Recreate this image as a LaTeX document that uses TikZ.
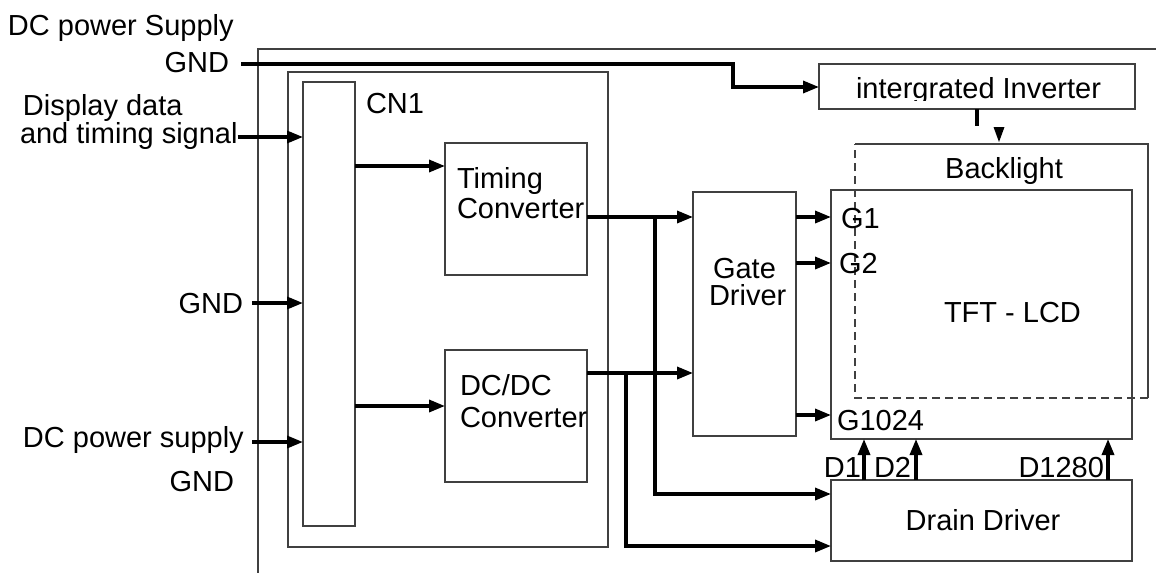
\documentclass[tikz,border=0pt]{standalone}
\usepackage{fontspec}
\setmainfont{Liberation Sans}
\usetikzlibrary{arrows.meta}
\begin{document}
\begin{tikzpicture}[x=1pt,y=-1pt,
  box/.style={draw=black!75,line width=1.1pt,inner sep=0pt,outer sep=0pt,anchor=north west},
  frame/.style={draw=black!75,line width=1.1pt},
  lbl/.style={inner sep=0pt,outer sep=0pt,font=\fontsize{29}{32}\selectfont},
  wire/.style={line width=3.4pt},
  conn/.style={line width=3.4pt,-{Triangle[length=16pt,width=12pt]}}]
\useasboundingbox (0,0) rectangle (1156,573);

% outer frame (top and left only)
\draw[frame] (1156,49) -- (258,49) -- (258,573);

% boxes
\node[box,minimum width=320pt,minimum height=475pt] (main) at (288,72) {};
\node[box,minimum width=52pt,minimum height=444pt] (cn1) at (303,82) {};
\node[box,minimum width=142pt,minimum height=132pt] (tc) at (445,143) {};
\node[box,minimum width=142pt,minimum height=132pt] (dc) at (445,350) {};
\node[box,minimum width=103pt,minimum height=244pt] (gd) at (693,192) {};
\node[box,minimum width=316pt,minimum height=45pt] (inv) at (819,64) {};
\node[box,minimum width=301pt,minimum height=249pt] (tft) at (831,190) {};
\node[box,minimum width=301pt,minimum height=81pt] (dd) at (831,480) {};
\node[inner sep=0pt,outer sep=0pt,anchor=north west,minimum width=293pt,minimum height=254pt] (bl) at (855,144) {};
\draw[frame] (bl.north west) -- (bl.north east) -- (bl.south east);
\draw[frame,dash pattern=on 8pt off 5pt] (bl.south east) -- (bl.south west) -- (bl.north west);

% texts
\node[lbl,anchor=base west] (t1) at (8,35) {DC power Supply};
\node[lbl,anchor=base east] (gnd1) at (229,72) {GND};
\node[lbl,anchor=base west] (t2) at (23,115) {Display data};
\node[lbl,anchor=base west] (t3) at (20,143) {and timing signal};
\node[lbl,anchor=base east] (gnd2) at (243,313) {GND};
\node[lbl,anchor=base west] (t4) at (23,447) {DC power supply};
\node[lbl,anchor=base east] (gnd3) at (234,491) {GND};
\node[lbl,anchor=base west] (cnl) at (366,113) {CN1};
\node[lbl,anchor=base west] (tc1) at (457,188) {Timing};
\node[lbl,anchor=base west] (tc2) at (457,218) {Converter};
\node[lbl,anchor=base west] (dc1) at (460,395) {DC/DC};
\node[lbl,anchor=base west] (dc2) at (460,427) {Converter};
\node[lbl,anchor=base west] (gd1) at (713,278) {Gate};
\node[lbl,anchor=base west] (gd2) at (709,305) {Driver};
\begin{scope}
\clip (inv.north west) rectangle (1135,100);
\node[lbl,anchor=base west] (invt) at (856,98) {intergrated Inverter};
\end{scope}
\node[lbl,anchor=base] (blt) at (1004,178) {Backlight};
\node[lbl,anchor=base west] (tftt) at (944,322) {TFT - LCD};
\node[lbl,anchor=base west] (g1) at (841,228) {G1};
\node[lbl,anchor=base west] (g2) at (839,273) {G2};
\node[lbl,anchor=base west] (g3) at (837,430) {G1024};
\node[lbl,anchor=base east] (d1) at (861,477) {D1};
\node[lbl,anchor=base west] (d2) at (874,477) {D2};
\node[lbl,anchor=base east] (d3) at (1104,477) {D1280};
\node[lbl,anchor=base] (ddt) at (983,530) {Drain Driver};

% connectors
\coordinate (s1) at (241,64);
\draw[conn] (s1) -- (733,64) -- (733,87) -- (inv.west |- 0,87);
\draw[conn] (t3.east |- 0,137) -- (cn1.west |- 0,137);
\coordinate (s2) at (252,303);
\draw[conn] (s2) -- (cn1.west |- 0,303);
\coordinate (s3) at (252,442);
\draw[conn] (s3) -- (cn1.west |- 0,442);
\draw[conn] (cn1.east |- 0,166) -- (tc.west |- 0,166);
\draw[conn] (cn1.east |- 0,406) -- (dc.west |- 0,406);
\draw[conn] (tc.east |- 0,217) -- (gd.west |- 0,217);
\draw[conn] (dc.east |- 0,373) -- (gd.west |- 0,373);
\coordinate (b1) at (655,217);
\coordinate (b2) at (626,373);
\draw[conn] (b1) -- (655,494) -- (dd.west |- 0,494);
\draw[conn] (b2) -- (626,546) -- (dd.west |- 0,546);
\draw[conn] (gd.east |- 0,217) -- (tft.west |- 0,217);
\draw[conn] (gd.east |- 0,263) -- (tft.west |- 0,263);
\draw[conn] (gd.east |- 0,415) -- (tft.west |- 0,415);
\draw[conn] (dd.north -| 864,0) -- (tft.south -| 864,0);
\draw[conn] (dd.north -| 916,0) -- (tft.south -| 916,0);
\draw[conn] (dd.north -| 1108,0) -- (tft.south -| 1108,0);
\draw[wire] (inv.south -| 977,0) -- (977,126);
\fill (993.5,127) -- (1004.5,127) -- (999,142) -- cycle;
\end{tikzpicture}
\end{document}
